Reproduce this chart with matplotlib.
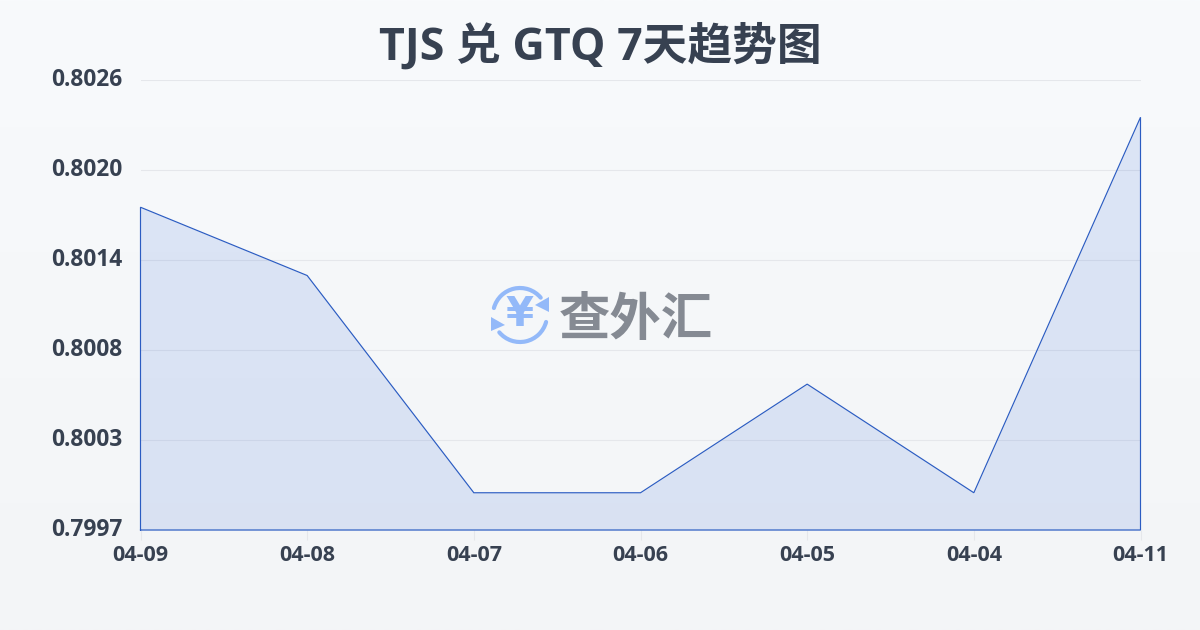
#!/usr/bin/env python3

import numpy as np
import matplotlib
matplotlib.use("Agg")
import matplotlib.pyplot as plt
from matplotlib.patches import Arc, Polygon
from matplotlib.transforms import ScaledTranslation

# ==========================================================
# DATA
# ==========================================================
dates = ["04-09", "04-08", "04-07", "04-06", "04-05", "04-04", "04-11"]
rates = [0.80178, 0.80134, 0.79994, 0.79994, 0.80064, 0.79994, 0.80236]
y_ticks = [0.7997, 0.80028, 0.80086, 0.80144, 0.80202, 0.8026]
y_labels = ["0.7997", "0.8003", "0.8008", "0.8014", "0.8020", "0.8026"]

TITLE = "TJS 兑 GTQ 7天趋势图"

COL_LINE = "#2b5cc2"
COL_FILL = "#2a60d8"
COL_TEXT = "#374151"
COL_GRID = "#e5e7eb"
COL_ICON = "#93b9f9"
COL_LOGO = "#858a93"

plt.rcParams["font.family"] = ["Open Sans", "Noto Sans CJK SC", "DejaVu Sans"]

fig = plt.figure(figsize=(12, 6.3), dpi=100)

# background gradient
bg = fig.add_axes([0, 0, 1, 1], zorder=0)
grad = np.linspace(0, 1, 256).reshape(-1, 1)
top = np.array([0xf8, 0xfa, 0xfc]) / 255
bottom = np.array([0xf3, 0xf5, 0xf7]) / 255
bg.imshow(top + (bottom - top) * grad[:, :, None], aspect="auto")
bg.axis("off")

# main chart
ax = fig.add_axes([140.5 / 1200, 1 - 530 / 630, 1000 / 1200, 450 / 630], zorder=1)
ax.patch.set_alpha(0)
x = np.arange(len(dates))

ax.fill_between(x, rates, y_ticks[0], color=COL_FILL, alpha=0.13, lw=0, zorder=2)
ax.plot(
    np.r_[x[0], x, x[-1], x[0]],
    np.r_[y_ticks[0], rates, y_ticks[0], y_ticks[0]],
    color=COL_LINE,
    lw=0.85,
    solid_joinstyle="miter",
    clip_on=False,
    zorder=3,
)

ax.set_xlim(x[0], x[-1])
ax.set_ylim(y_ticks[0], y_ticks[-1])
ax.set_xticks(x, dates)
ax.set_yticks(y_ticks, y_labels)
ax.grid(axis="y", color=COL_GRID, lw=0.8, zorder=1)
ax.set_axisbelow(True)
for s in ax.spines.values():
    s.set_visible(False)

ax.tick_params(axis="x", length=7, width=0.8, color=COL_GRID, pad=3.5,
               labelsize=15.5, labelcolor=COL_TEXT)
ax.tick_params(axis="y", length=0, pad=13, labelsize=16.4, labelcolor=COL_TEXT)
for lab in ax.get_xticklabels() + ax.get_yticklabels():
    lab.set_fontweight("bold")
# y labels sit a little above their gridlines
for lab in ax.get_yticklabels():
    lab.set_transform(lab.get_transform() + ScaledTranslation(0, 2 / 72, fig.dpi_scale_trans))

# title
fig.text(0.5, 1 - 47 / 630, TITLE, ha="center", va="center", fontsize=32.2,
         fontweight="bold", color=COL_TEXT)

# watermark logo, pixel coordinates
logo = fig.add_axes([0, 0, 1, 1], zorder=2)
logo.set_xlim(0, 1200)
logo.set_ylim(630, 0)
logo.axis("off")
cx, cy = 520, 315
logo.add_patch(Arc((cx, cy), 54, 54, theta1=195, theta2=320, color=COL_ICON, lw=3, capstyle="round"))
logo.add_patch(Arc((cx, cy), 54, 54, theta1=15, theta2=140, color=COL_ICON, lw=3, capstyle="round"))
logo.add_patch(Polygon([[549, 297], [549, 312], [535, 305]], color=COL_ICON, lw=0))
logo.add_patch(Polygon([[491, 317], [491, 331], [505, 325]], color=COL_ICON, lw=0))
logo.text(cx, cy, "¥", ha="center", va="center", fontsize=29, fontweight="bold", color=COL_ICON, family=["DejaVu Sans"])
logo.text(636, 319, "查外汇", ha="center", va="center", fontsize=37, fontweight="bold",
          color=COL_LOGO, family=["Noto Sans CJK SC"])

fig.savefig("out.png", dpi=100)
